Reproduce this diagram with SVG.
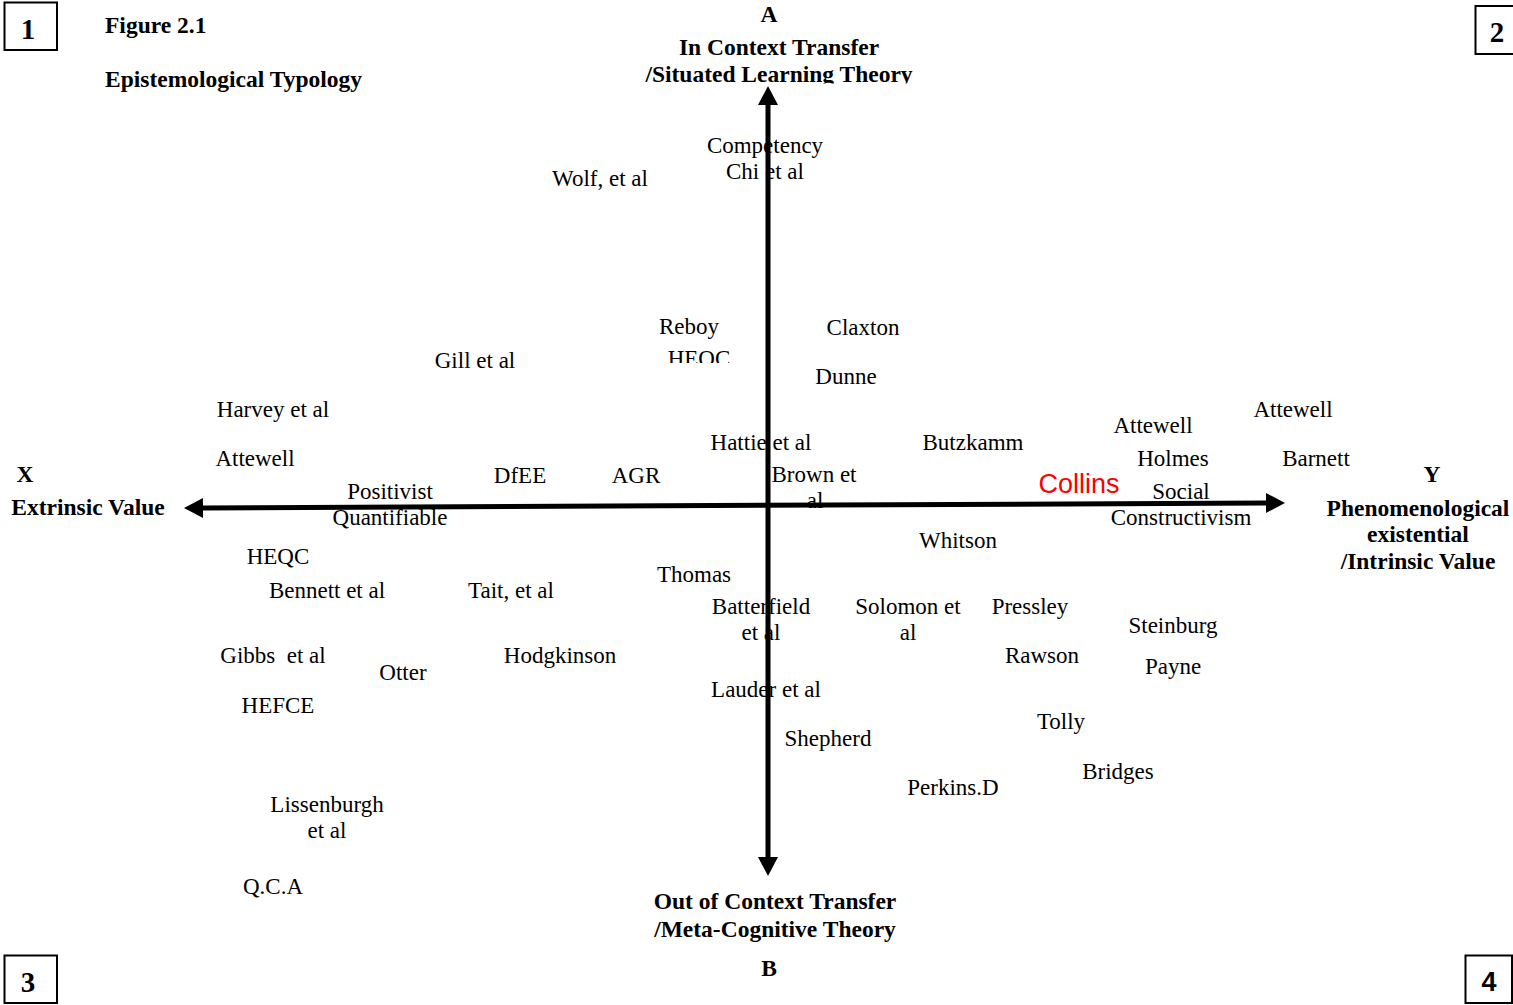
<svg xmlns="http://www.w3.org/2000/svg" width="1513" height="1005" viewBox="0 0 1513 1005">
<style>
text{font-family:"Liberation Serif","Times New Roman",serif;font-size:23px;fill:#000;text-anchor:middle}
.b{font-weight:bold;font-size:23.5px}
.l{text-anchor:start}
.num{font-size:29px;font-weight:bold}
.box{fill:none;stroke:#000;stroke-width:2}
.axis{stroke:#000;stroke-width:5;fill:none;marker-start:url(#ah);marker-end:url(#ah)}
.red{fill:#ff0000;font-family:"Liberation Sans",Arial,sans-serif;font-size:27px}
</style>
<defs>
<marker id="ah" markerUnits="userSpaceOnUse" viewBox="0 0 19 20" markerWidth="19" markerHeight="20" refX="0" refY="10" orient="auto-start-reverse">
<path d="M0,0 L19,10 L0,20 z" fill="#000"/>
</marker>
<clipPath id="clipA"><rect x="600" y="60" width="360" height="24.5"/></clipPath>
<clipPath id="clipH"><rect x="650" y="340" width="100" height="24"/></clipPath>
</defs>
<rect width="1513" height="1005" fill="#fff"/>
<g transform="translate(0,-1)">
<g id="box1"><rect class="box" x="4.5" y="3.5" width="52.5" height="47.5"/><text class="num" x="28" y="40">1</text></g>
<g id="box2"><rect class="box" x="1475.5" y="7" width="40" height="48"/><text class="num" x="1497" y="43">2</text></g>
<g id="box3"><rect class="box" x="4.5" y="956.5" width="52.5" height="47.5"/><text class="num" x="28" y="993">3</text></g>
<g id="box4"><rect class="box" x="1465.5" y="956.5" width="46.5" height="47.5"/><text class="num" x="1489" y="992" style="font-family:'Liberation Sans',Arial,sans-serif;font-size:27px">4</text></g>
<g id="title"><text class="b l" x="105" y="34">Figure 2.1</text><text class="b l" x="105" y="88">Epistemological Typology</text></g>
<g id="axisA"><text class="b" x="769" y="23">A</text><text class="b" x="779" y="56">In Context Transfer</text><text class="b" x="779" y="83" clip-path="url(#clipA)">/Situated Learning Theory</text></g>
<g id="axisB"><text class="b" x="775" y="910">Out of Context Transfer</text><text class="b" x="775" y="938">/Meta-Cognitive Theory</text><text class="b" x="769" y="977">B</text></g>
<g id="axisX"><text class="b" x="25" y="483">X</text><text class="b" x="88" y="516">Extrinsic Value</text></g>
<g id="axisY"><text class="b" x="1432" y="483">Y</text><text class="b" x="1418" y="517">Phenomenological</text><text class="b" x="1418" y="543">existential</text><text class="b" x="1418" y="570">/Intrinsic Value</text></g>
<g id="competency"><text x="765" y="154">Competency</text><text x="765" y="180">Chi et al</text></g>
<g id="wolf"><text x="600" y="187">Wolf, et al</text></g>
<g id="reboy"><text x="689" y="335">Reboy</text></g>
<g id="heqc1"><text x="699" y="367" clip-path="url(#clipH)">HEQC</text></g>
<g id="claxton"><text x="863" y="336">Claxton</text></g>
<g id="dunne"><text x="846" y="385">Dunne</text></g>
<g id="gill"><text x="475" y="369">Gill et al</text></g>
<g id="harvey"><text x="273" y="418">Harvey et al</text></g>
<g id="attewell1"><text x="255" y="467">Attewell</text></g>
<g id="positivist"><text x="390" y="500">Positivist</text><text x="390" y="526">Quantifiable</text></g>
<g id="dfee"><text x="520" y="484">DfEE</text></g>
<g id="agr"><text x="636" y="484">AGR</text></g>
<g id="hattie"><text x="761" y="451">Hattie et al</text></g>
<g id="brown"><text x="814" y="483">Brown et</text><text x="815" y="509">al</text></g>
<g id="butzkamm"><text x="973" y="451">Butzkamm</text></g>
<g id="attewell2"><text x="1153" y="434">Attewell</text></g>
<g id="attewell3"><text x="1293" y="418">Attewell</text></g>
<g id="holmes"><text x="1173" y="467">Holmes</text></g>
<g id="barnett"><text x="1316" y="467">Barnett</text></g>
<g id="collins"><text class="red" x="1079" y="494">Collins</text></g>
<g id="social"><text x="1181" y="500">Social</text><text x="1181" y="526">Constructivism</text></g>
<g id="whitson"><text x="958" y="549">Whitson</text></g>
<g id="heqc2"><text x="278" y="565">HEQC</text></g>
<g id="bennett"><text x="327" y="599">Bennett et al</text></g>
<g id="tait"><text x="511" y="599">Tait, et al</text></g>
<g id="thomas"><text x="694" y="583">Thomas</text></g>
<g id="batterfield"><text x="761" y="615">Batterfield</text><text x="761" y="641">et al</text></g>
<g id="solomon"><text x="908" y="615">Solomon et</text><text x="908" y="641">al</text></g>
<g id="pressley"><text x="1030" y="615">Pressley</text></g>
<g id="steinburg"><text x="1173" y="634">Steinburg</text></g>
<g id="rawson"><text x="1042" y="664">Rawson</text></g>
<g id="payne"><text x="1173" y="675">Payne</text></g>
<g id="gibbs"><text x="273" y="664" xml:space="preserve" style="white-space:pre">Gibbs  et al</text></g>
<g id="otter"><text x="403" y="681">Otter</text></g>
<g id="hodgkinson"><text x="560" y="664">Hodgkinson</text></g>
<g id="hefce"><text x="278" y="714">HEFCE</text></g>
<g id="lauder"><text x="766" y="698">Lauder et al</text></g>
<g id="tolly"><text x="1061" y="730">Tolly</text></g>
<g id="shepherd"><text x="828" y="747">Shepherd</text></g>
<g id="bridges"><text x="1118" y="780">Bridges</text></g>
<g id="perkins"><text x="953" y="796">Perkins.D</text></g>
<g id="lissenburgh"><text x="327" y="813">Lissenburgh</text><text x="327" y="839">et al</text></g>
<g id="qca"><text x="273" y="895">Q.C.A</text></g>
</g>
<g id="connectors">
<line class="axis" x1="203" y1="508" x2="1266" y2="503"/>
<line class="axis" x1="768" y1="105" x2="768" y2="857"/>
</g>
</svg>
